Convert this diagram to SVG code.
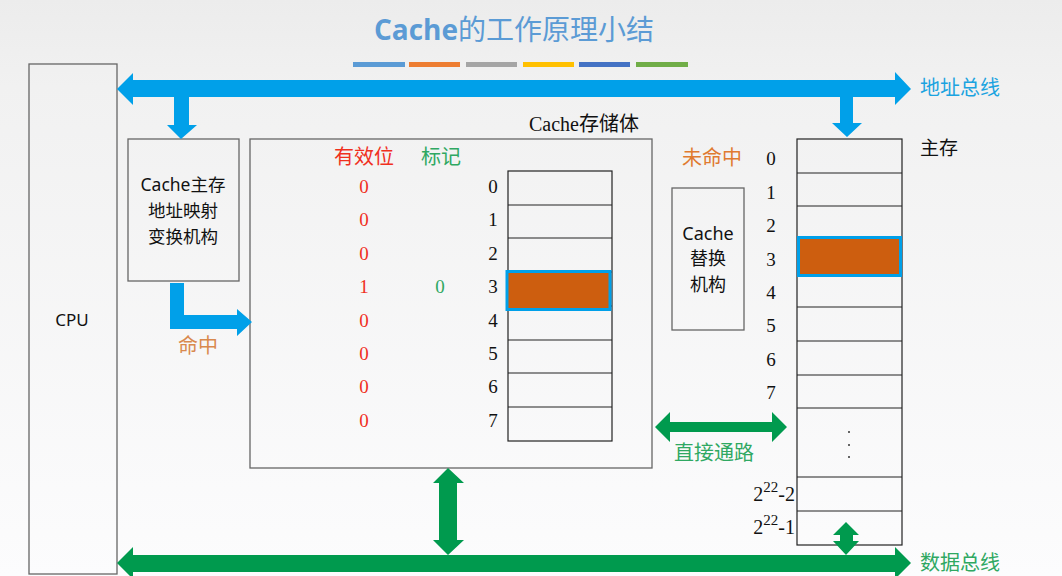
<svg xmlns="http://www.w3.org/2000/svg" width="1062" height="576" viewBox="0 0 1062 576">
<defs>
<linearGradient id="bg" x1="0" y1="0" x2="0" y2="1">
<stop offset="0" stop-color="#ececec"/>
<stop offset="0.15" stop-color="#f1f1f1"/>
<stop offset="1" stop-color="#fcfcfd"/>
</linearGradient>
<style>
.box{fill:none;stroke:#666;stroke-width:1.3}
.cell{fill:none;stroke:#222;stroke-width:1.2}
.blue{fill:#00a0e9}
.green{fill:#009a4e}
.sans{font-family:"Noto Sans","Noto Sans CJK SC",sans-serif}
.cjk{font-family:"Noto Sans CJK SC",sans-serif}
.serif{font-family:"Liberation Serif","Noto Sans CJK SC",serif}
.num{font-family:"Liberation Serif",serif;font-size:19px;text-anchor:middle;fill:#111}
.red{fill:#f0301e}
.gtxt{fill:#2fa862}
.otxt{fill:#e07a30}
.hl{fill:#cd5e0f;stroke:#00a0e9;stroke-width:3}
</style>
</defs>
<rect width="1062" height="576" fill="url(#bg)"/>
<text x="514" y="40" text-anchor="middle" font-size="28" fill="#5b9bd5" class="cjk"><tspan font-family="Open Sans, sans-serif" font-weight="bold">Cache</tspan>的工作原理小结</text>
<g id="title-bars">
<rect x="353" y="62" width="52" height="5" fill="#5b9bd5"/>
<rect x="409" y="62" width="51" height="5" fill="#ed7d31"/>
<rect x="466" y="62" width="51" height="5" fill="#a5a5a5"/>
<rect x="523" y="62" width="51" height="5" fill="#ffc000"/>
<rect x="579" y="62" width="51" height="5" fill="#4472c4"/>
<rect x="636" y="62" width="52" height="5" fill="#70ad47"/>
</g>
<g id="cpu">
<rect class="box" x="29" y="64" width="88" height="510"/>
<text x="72" y="326" text-anchor="middle" font-size="17" class="sans" fill="#111">CPU</text>
</g>
<g id="mapping">
<rect class="box" x="128" y="139" width="111" height="142"/>
<text x="183" y="191" text-anchor="middle" font-size="17.5" class="sans" fill="#111">Cache主存</text>
<text x="183" y="217" text-anchor="middle" font-size="17.5" class="cjk" fill="#111">地址映射</text>
<text x="183" y="243" text-anchor="middle" font-size="17.5" class="cjk" fill="#111">变换机构</text>
</g>
<g id="cache-store">
<rect class="box" x="250" y="139" width="402" height="329"/>
<text x="584" y="131" text-anchor="middle" font-size="20" class="serif" fill="#111">Cache存储体</text>
<text x="364" y="164" text-anchor="middle" font-size="20" class="cjk red">有效位</text>
<text x="441" y="164" text-anchor="middle" font-size="20" class="cjk gtxt">标记</text>
<g class="serif" font-size="19" text-anchor="middle" fill="#f0301e">
<text x="364" y="193">0</text><text x="364" y="226">0</text><text x="364" y="260">0</text><text x="364" y="293">1</text>
<text x="364" y="327">0</text><text x="364" y="360">0</text><text x="364" y="393">0</text><text x="364" y="427">0</text>
</g>
<text x="440" y="293" text-anchor="middle" font-size="19" class="serif" fill="#2fa862">0</text>
<g class="num">
<text x="493" y="193">0</text><text x="493" y="226">1</text><text x="493" y="260">2</text><text x="493" y="293">3</text>
<text x="493" y="327">4</text><text x="493" y="360">5</text><text x="493" y="393">6</text><text x="493" y="427">7</text>
</g>
<rect class="cell" x="508" y="171" width="104" height="270"/>
<path class="cell" d="M508 205H612M508 238H612M508 272H612M508 306H612M508 340H612M508 373H612M508 407H612"/>
<rect class="hl" x="507" y="271.5" width="103" height="38"/>
</g>
<g id="replace">
<text x="712" y="165" text-anchor="middle" font-size="20" class="cjk otxt">未命中</text>
<rect class="box" x="672" y="188" width="72" height="142"/>
<text x="708" y="240" text-anchor="middle" font-size="18" class="sans" fill="#111">Cache</text>
<text x="708" y="265" text-anchor="middle" font-size="18" class="cjk" fill="#111">替换</text>
<text x="708" y="291" text-anchor="middle" font-size="18" class="cjk" fill="#111">机构</text>
</g>
<g id="main-memory">
<text x="939" y="155" text-anchor="middle" font-size="19" class="cjk" fill="#111">主存</text>
<rect class="cell" x="797" y="139" width="105" height="406"/>
<path class="cell" d="M797 173H902M797 206H902M797 240H902M797 274H902M797 307H902M797 341H902M797 375H902M797 408H902M797 477H902M797 511H902"/>
<rect class="hl" x="798.5" y="237.5" width="102" height="38"/>
<g class="num">
<text x="771" y="165">0</text><text x="771" y="199">1</text><text x="771" y="232">2</text><text x="771" y="266">3</text>
<text x="771" y="299">4</text><text x="771" y="332">5</text><text x="771" y="366">6</text><text x="771" y="399">7</text>
</g>
<g font-family="Liberation Serif, serif" font-size="20" fill="#111" text-anchor="end">
<text x="795" y="501">2<tspan font-size="15" dy="-9">22</tspan><tspan dy="9">-2</tspan></text>
<text x="795" y="534">2<tspan font-size="15" dy="-9">22</tspan><tspan dy="9">-1</tspan></text>
</g>
<g fill="#333">
<circle cx="849" cy="432" r="1"/><circle cx="849" cy="445" r="1"/><circle cx="849" cy="457" r="1"/>
</g>
</g>
<g id="connectors">
<polygon class="blue" points="117,89 133,73 133,80 895,80 895,72 911,89 895,105 895,97 133,97 133,105"/>
<polygon class="blue" points="174,97 189,97 189,125 197,125 181,139 167,125 174,125"/>
<polygon class="blue" points="840,97 853,97 853,123 862,123 847,137 832,123 840,123"/>
<polygon class="blue" points="170,283 184,283 184,315 237,315 237,309 252,322 237,336 237,329 170,329"/>
<polygon class="green" points="655,427 670,412 670,422 772,422 772,412 787,427 772,442 772,432 670,432 670,442"/>
<polygon class="green" points="448,468 464,483 457,483 457,540 464,540 448,555 433,540 439,540 439,483 433,483"/>
<polygon class="green" points="117,563 133,547 133,555 895,555 895,547 911,563 895,579 895,572 133,572 133,579"/>
<polygon class="green" points="846,522 859,535 853,535 853,541 859,541 846,555 833,541 840,541 840,535 833,535"/>
</g>
<g id="labels">
<text x="960" y="95" text-anchor="middle" font-size="20" class="cjk" fill="#1aa3e0">地址总线</text>
<text x="198" y="353" text-anchor="middle" font-size="20" class="cjk" fill="#d9894e">命中</text>
<text x="714" y="460" text-anchor="middle" font-size="20" class="cjk gtxt">直接通路</text>
<text x="960" y="570" text-anchor="middle" font-size="20" class="cjk gtxt">数据总线</text>
</g>
</svg>
